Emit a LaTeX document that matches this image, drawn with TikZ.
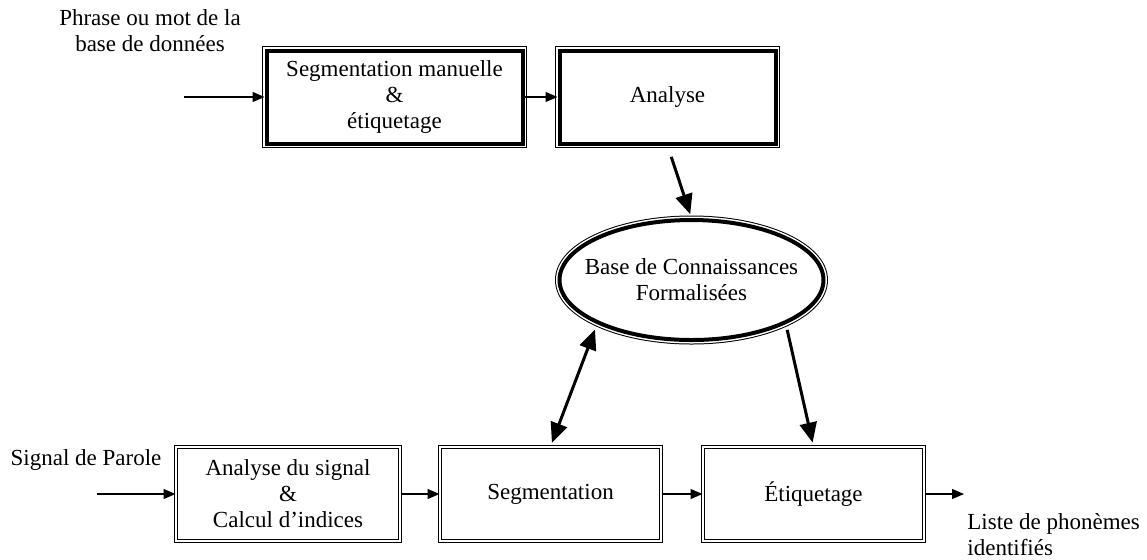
\documentclass[tikz,border=0pt]{standalone}
\usepackage{fontspec}
\setmainfont{Liberation Serif}
\usetikzlibrary{arrows.meta,shapes.geometric}

\begin{document}
\begin{tikzpicture}[x=0.5pt, y=-0.5pt,
  font=\fontsize{11.5}{13}\selectfont,
  thickbox/.style={preaction={draw, line width=4.5pt}, preaction={draw=white, line width=3.5pt},
    draw, fill=white, line width=2pt, align=center, inner sep=0pt},
  dblbox/.style={draw, line width=0.5pt, double, double distance=0.8pt, align=center, inner sep=0pt,
    minimum height=47pt},
  flow/.style={line width=0.6pt, -{Triangle[length=6pt, width=5pt]}},
  bold/.style={line width=1.5pt, -{Triangle[length=10pt, width=8.5pt]}}]
\useasboundingbox (0,0) rectangle (1147,559);

% upper row
\node[align=center] (src-text) at (150,31) {Phrase ou mot de la\\base de données};
\coordinate (src-in) at (184,97);
\node[thickbox, minimum width=128pt, minimum height=46.5pt] (seg-man) at (394.5,97)
  {Segmentation manuelle\\\&\\étiquetage};
\node[thickbox, minimum width=108pt, minimum height=46.5pt] (ana) at (667.5,97) {Analyse};

% knowledge base
\node[thickbox, ellipse, inner xsep=-8pt, inner ysep=0pt, minimum width=132pt, minimum height=60pt]
  (kb) at (691.5,280) {Base de Connaissances\\Formalisées};

% lower row
\node (sig-text) at (86,460) {Signal de Parole};
\coordinate (sig-in) at (97,494);
\node[dblbox, minimum width=112pt] (calc) at (288,494) {Analyse du signal\\\&\\Calcul d’indices};
\node[dblbox, minimum width=110.5pt] (seg) at (550.5,494) {Segmentation};
\node[dblbox, minimum width=110.5pt] (etiq) at (813.5,494) {Étiquetage};
\coordinate (out) at (964,494);
\node[align=left, anchor=west, inner sep=0pt] (out-text) at (967,535) {Liste de phonèmes\\identifiés};

\draw[flow] (src-in) -- (seg-man);
\draw[flow] (seg-man) -- (ana);
\draw[flow] (sig-in) -- (calc);
\draw[flow] (calc) -- (seg);
\draw[flow] (seg) -- (etiq);
\draw[flow] (etiq) -- (out);

\draw[bold, shorten <=6pt, shorten >=2pt] (ana.south) -- (kb.north);
\draw[bold, {Triangle[length=10pt, width=8.5pt]}-{Triangle[length=10pt, width=8.5pt]},
  shorten <=3pt, shorten >=2pt] (kb.-155) -- (seg.north);
\draw[bold, shorten <=3pt, shorten >=2pt] (kb.-25) -- (etiq.north);
\end{tikzpicture}
\end{document}
